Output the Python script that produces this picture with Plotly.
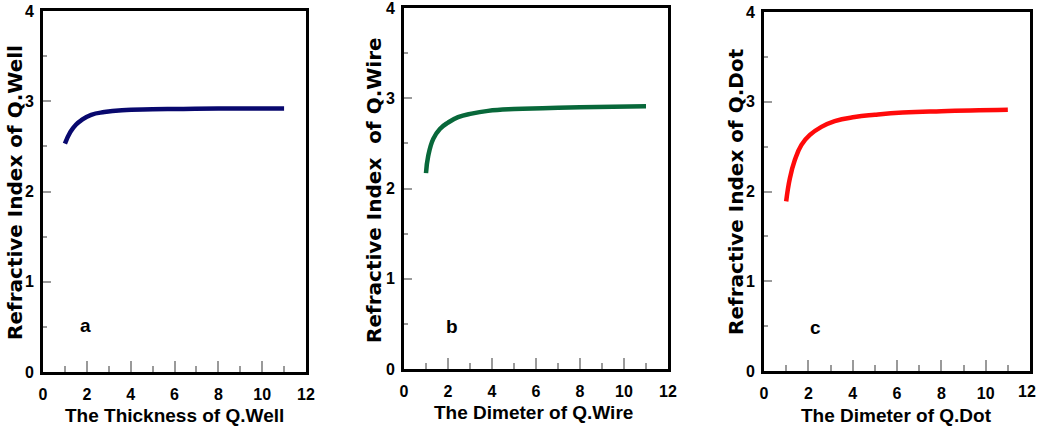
import plotly.graph_objects as go

W, H = 1039, 431

# ---- data ----
x_well = [1.0, 1.25, 1.5, 1.75, 2.2, 2.8, 3.6, 5.0, 6.4, 8.0, 11.0]
n_well = [2.53, 2.66, 2.74, 2.79, 2.85, 2.88, 2.90, 2.91, 2.915, 2.92, 2.92]

x_wire = [1.0, 1.1, 1.33, 1.63, 2.0, 2.46, 3.07, 3.82, 5.0, 6.3, 8.0, 11.0]
n_wire = [2.17, 2.36, 2.55, 2.66, 2.73, 2.79, 2.83, 2.86, 2.88, 2.89, 2.90, 2.91]

x_dot = [1.0, 1.17, 1.39, 1.69, 2.07, 2.59, 3.19, 4.09, 5.0, 6.26, 8.0, 11.0]
n_dot = [1.89, 2.15, 2.35, 2.52, 2.63, 2.72, 2.785, 2.83, 2.855, 2.88, 2.895, 2.91]

x_ticks = [0, 2, 4, 6, 8, 10, 12]
y_ticks = [0, 1, 2, 3, 4]

x_titles = ["The Thickness of Q.Well", "The Dimeter of Q.Wire", "The Dimeter of Q.Dot"]
y_titles = ["Refractive Index of Q.Well", "Refractive Index  of Q.Wire", "Refractive Index of Q.Dot"]
panel_labels = ["a", "b", "c"]
panel_label_pos = [(1.95, 0.52), (2.17, 0.47), (2.34, 0.49)]
colors = ["#08086e", "#08683a", "#ff0a0a"]
xs = [x_well, x_wire, x_dot]
series = [n_well, n_wire, n_dot]

# panel frames in pixels: (left, right, top, bottom)
frames = [(43, 306, 11, 372), (404, 668, 8, 369), (764, 1030, 12, 371)]
xtitle_pos = [(174, 415), (533, 412), (896, 415)]
ytitle_pos = [(15, 193), (374, 190), (736, 192)]

ARIAL = "Liberation Sans, Arial, sans-serif"
WIDE = "DejaVu Sans, Liberation Sans, Arial, sans-serif"
TICKFONT = dict(family=ARIAL, size=16, color="black", weight="bold")

fig = go.Figure()
annotations = []
for i in range(3):
    l, r, t, b = frames[i]
    xa = "xaxis" if i == 0 else f"xaxis{i+1}"
    ya = "yaxis" if i == 0 else f"yaxis{i+1}"
    xr = "x" if i == 0 else f"x{i+1}"
    yr = "y" if i == 0 else f"y{i+1}"
    fig.add_trace(go.Scatter(
        x=xs[i], y=series[i], mode="lines",
        line=dict(color=colors[i], width=4.5, shape="spline", smoothing=1.3),
        xaxis=xr, yaxis=yr, showlegend=False, hoverinfo="x+y",
    ))
    last_panel = (i == 2)
    ticktext = [str(v) for v in x_ticks]
    if last_panel:
        ticktext[-1] = ""
    fig.layout[xa] = dict(
        domain=[l / W, r / W], anchor=yr, range=[0, 12],
        tickmode="array", tickvals=x_ticks, ticktext=ticktext,
        showgrid=False, zeroline=False, automargin=False,
        showline=True, linecolor="black", linewidth=3, mirror=True,
        ticks="inside", ticklen=11, tickwidth=1.5, tickcolor="#9a9a9a",
        minor=dict(ticks="inside", ticklen=6, tickwidth=1.5, tickcolor="#9a9a9a", dtick=1, tick0=0),
        tickfont=TICKFONT,
        ticklabelstandoff=6, ticklabeloverflow="allow",
        fixedrange=True,
    )
    fig.layout[ya] = dict(
        domain=[(H - b) / H, (H - t) / H], anchor=xr, range=[0, 4],
        tickmode="array", tickvals=y_ticks, ticktext=[str(v) for v in y_ticks],
        showgrid=False, zeroline=False, automargin=False,
        showline=True, linecolor="black", linewidth=3, mirror=True,
        ticks="inside", ticklen=8, tickwidth=1.5, tickcolor="#9a9a9a",
        minor=dict(ticks="inside", ticklen=4, tickwidth=1.5, tickcolor="#9a9a9a", dtick=0.5, tick0=0),
        tickfont=TICKFONT,
        ticklabelstandoff=3, ticklabeloverflow="allow",
        fixedrange=True,
    )
    if last_panel:
        # right-most label of the last panel, placed in paper coordinates at the axis end
        annotations.append(dict(
            x=(r - 3) / W, y=(H - b - 10) / H, xref="paper", yref="paper",
            text=str(x_ticks[-1]), showarrow=False,
            xanchor="center", yanchor="top", font=TICKFONT,
        ))
    px_, py_ = panel_label_pos[i]
    annotations.append(dict(
        x=px_, y=py_, xref=xr, yref=yr, text=panel_labels[i], showarrow=False,
        font=dict(family=ARIAL, size=19, color="black", weight="bold"),
    ))
    tx, ty = xtitle_pos[i]
    annotations.append(dict(
        x=tx / W, y=(H - ty) / H, xref="paper", yref="paper", text=x_titles[i],
        showarrow=False, xanchor="center", yanchor="middle",
        font=dict(family=ARIAL, size=19, color="black", weight="bold"),
    ))
    sx, sy = ytitle_pos[i]
    annotations.append(dict(
        x=sx / W, y=(H - sy) / H, xref="paper", yref="paper", text=y_titles[i].replace("  ", "&nbsp; "),
        showarrow=False, xanchor="center", yanchor="middle", textangle=-90,
        font=dict(family=WIDE, size=20, color="black", weight="bold"),
    ))

fig.update_layout(
    width=W, height=H, margin=dict(l=0, r=0, t=0, b=0, autoexpand=False),
    paper_bgcolor="white", plot_bgcolor="white",
    annotations=annotations,
)

fig.write_html("out.html", include_plotlyjs=True, config={"displayModeBar": False})
